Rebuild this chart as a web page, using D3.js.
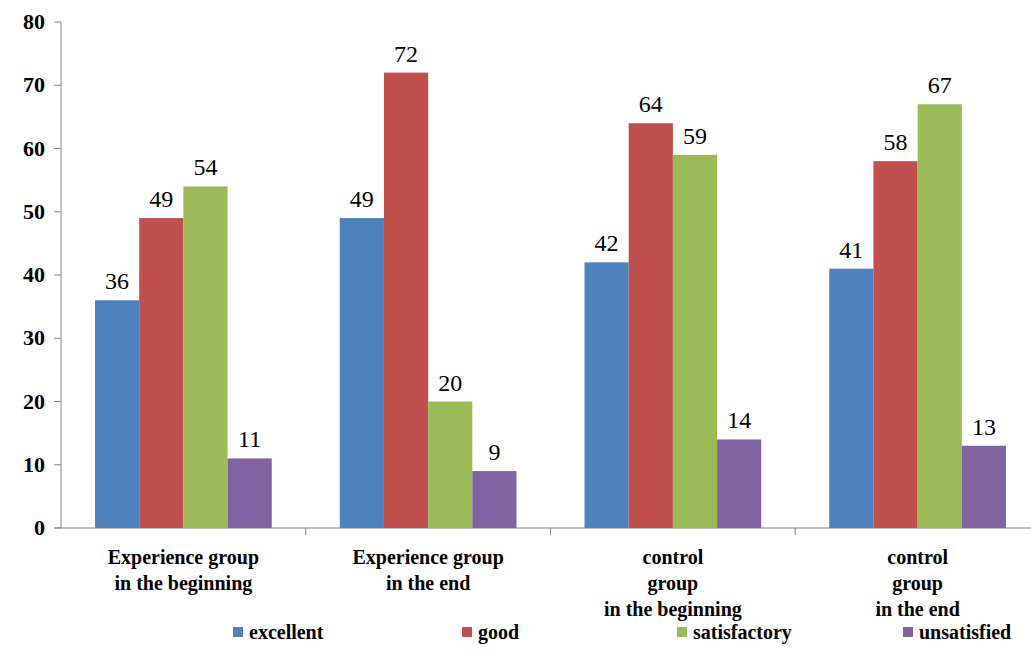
<!DOCTYPE html>
<html><head><meta charset="utf-8">
<script src="https://cdn.jsdelivr.net/npm/d3@7"></script>
<style>body{margin:0;background:#fff}svg{display:block}</style>
</head><body>
<script>
const categories = [
  ["Experience group", "in the beginning"],
  ["Experience group", "in the end"],
  ["control", "group", "in the beginning"],
  ["control", "group", "in the end"]
];
const seriesNames = ["excellent", "good", "satisfactory", "unsatisfied"];
const excellent = [36, 49, 42, 41];
const good = [49, 72, 64, 58];
const satisfactory = [54, 20, 59, 67];
const unsatisfied = [11, 9, 14, 13];
const yTicks = [0, 10, 20, 30, 40, 50, 60, 70, 80];
const colors = ["#4F81BD", "#C0504D", "#9BBB59", "#8064A2"];

const FONT = "Liberation Serif";
const seriesValues = [excellent, good, satisfactory, unsatisfied];
const W = 1031, H = 671;
const svg = d3.select("body").append("svg").attr("width", W).attr("height", H);

const x0 = d3.scaleBand().domain(d3.range(categories.length)).range([61, 1040]).paddingInner(0).paddingOuter(0);
const x1 = d3.scaleBand().domain(d3.range(seriesNames.length)).range([34, x0.bandwidth() - 34]).padding(0);
const y = d3.scaleLinear().domain([0, 80]).range([528, 22]);

// y axis (drawn from the scale)
const gy = svg.append("g");
gy.append("line").attr("x1", 61).attr("x2", 61).attr("y1", y(80)).attr("y2", y(0)).attr("stroke", "#868686");
yTicks.forEach(t => {
  gy.append("line").attr("x1", 54).attr("x2", 61).attr("y1", y(t)).attr("y2", y(t)).attr("stroke", "#868686");
  gy.append("text").attr("x", 45).attr("y", y(t) + 7).attr("text-anchor", "end")
    .style("font-family", FONT).style("font-weight", "bold").style("font-size", "22px")
    .attr("fill", "#000").text(String(t));
});

// x axis line
svg.append("line").attr("x1", 54).attr("x2", W).attr("y1", y(0)).attr("y2", y(0)).attr("stroke", "#868686");
categories.forEach((c, i) => {
  if (i > 0) svg.append("line").attr("x1", x0(i)).attr("x2", x0(i)).attr("y1", y(0)).attr("y2", y(0) + 7).attr("stroke", "#868686");
});

// bars
categories.forEach((c, ci) => {
  const g = svg.append("g").attr("transform", `translate(${x0(ci)},0)`);
  seriesValues.forEach((vals, si) => {
    const v = vals[ci];
    g.append("rect").attr("x", x1(si)).attr("width", x1.bandwidth())
      .attr("y", y(v)).attr("height", y(0) - y(v)).attr("fill", colors[si]);
    g.append("text").attr("x", x1(si) + x1.bandwidth() / 2).attr("y", y(v) - 11)
      .attr("text-anchor", "middle").style("font-family", FONT)
      .style("font-size", "24px").attr("fill", "#000").text(String(v));
  });
  c.forEach((line, li) => {
    g.append("text").attr("text-anchor", "middle").style("font-family", FONT)
      .style("font-weight", "bold").style("font-size", "20px").attr("fill", "#000")
      .attr("x", x0.bandwidth() / 2).attr("y", 564 + li * 26).text(line);
  });
});

// legend
const legendX = [233, 462, 677, 903];
const lg = svg.append("g");
seriesNames.forEach((n, i) => {
  lg.append("rect").attr("x", legendX[i]).attr("y", 627).attr("width", 10).attr("height", 10).attr("fill", colors[i]);
  lg.append("text").attr("x", legendX[i] + 16).attr("y", 639).style("font-family", FONT)
    .style("font-weight", "bold")
    .style("font-size", "20px").attr("fill", "#000").text(n);
});
</script>
</body></html>
